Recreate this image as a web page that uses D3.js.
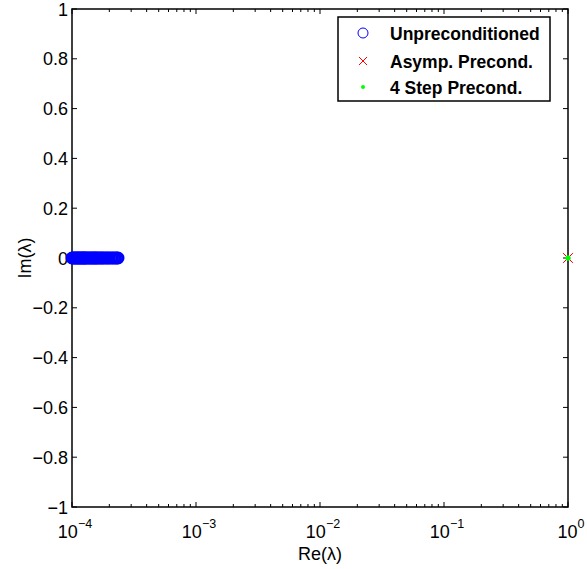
<!DOCTYPE html>
<html lang="en">
<head>
  <meta charset="utf-8">
  <title>Eigenvalue spectrum</title>
  <script src="https://d3js.org/d3.v7.min.js"></script>
  <style>
    body { margin: 0; background: #fff; }
    text { font-family: "Liberation Sans", Arial, sans-serif; }
  </style>
</head>
<body>
  <div id="chart"></div>
  <script>
    var unprecRe = [1.00e-4, 1.02e-4, 1.04e-4, 1.06e-4, 1.08e-4, 1.10e-4, 1.12e-4, 1.14e-4,
      1.16e-4, 1.18e-4, 1.20e-4, 1.22e-4, 1.24e-4, 1.26e-4, 1.28e-4, 1.30e-4, 1.33e-4,
      1.36e-4, 1.39e-4, 1.42e-4, 1.45e-4, 1.48e-4, 1.51e-4, 1.54e-4, 1.57e-4, 1.60e-4,
      1.64e-4, 1.68e-4, 1.72e-4, 1.76e-4, 1.80e-4, 1.85e-4, 1.90e-4, 1.95e-4, 2.00e-4,
      2.06e-4, 2.12e-4, 2.18e-4, 2.24e-4, 2.30e-4, 2.35e-4];
    var unprecIm = unprecRe.map(function () { return 0; });
    var asympRe = [1.0, 0.999, 1.001];
    var asympIm = [0, 0, 0];
    var stepRe = [1.0, 1.0];
    var stepIm = [0, 0];

    var xTicks = [1e-4, 1e-3, 1e-2, 1e-1, 1];
    var xTickExp = ["−4", "−3", "−2", "−1", "0"];
    var yTicks = [-1, -0.8, -0.6, -0.4, -0.2, 0, 0.2, 0.4, 0.6, 0.8, 1];
    var legendLabels = ["Unpreconditioned", "Asymp. Precond.", "4 Step Precond."];

    var W = 587, H = 569;
    var margin = { top: 9, right: 19, bottom: 62, left: 72 },
      width = W - margin.left - margin.right,
      height = H - margin.top - margin.bottom;

    var svg = d3.select("#chart").append("svg")
      .attr("width", W).attr("height", H);
    var g = svg.append("g")
      .attr("transform", "translate(" + margin.left + "," + margin.top + ")");

    var x = d3.scaleLog().domain([1e-4, 1]).range([0, width]);
    var y = d3.scaleLinear().domain([-1, 1]).range([height, 0]);

    // frame
    g.append("rect").attr("width", width).attr("height", height)
      .attr("fill", "none").attr("stroke", "#000").attr("stroke-width", 1.5);

    // x ticks (major + minor), inward on bottom and top
    var minor = [];
    for (var e = -4; e < 0; e++) {
      for (var k = 2; k <= 9; k++) minor.push(k * Math.pow(10, e));
    }
    function tickLines(vals, len) {
      vals.forEach(function (v) {
        var px = x(v);
        g.append("line").attr("x1", px).attr("x2", px).attr("y1", height).attr("y2", height - len)
          .attr("stroke", "#000");
        g.append("line").attr("x1", px).attr("x2", px).attr("y1", 0).attr("y2", len)
          .attr("stroke", "#000");
      });
    }
    tickLines(xTicks, 5);
    tickLines(minor, 3);

    xTicks.forEach(function (v, i) {
      var t = g.append("text").attr("x", x(v) + 3).attr("y", height + 31)
        .attr("text-anchor", "middle").attr("font-size", 18);
      t.append("tspan").text("10");
      t.append("tspan").attr("dy", -10).attr("font-size", 12.5).text(xTickExp[i]);
    });

    // y ticks
    yTicks.forEach(function (v) {
      var py = y(v);
      g.append("line").attr("x1", 0).attr("x2", 5).attr("y1", py).attr("y2", py).attr("stroke", "#000");
      g.append("line").attr("x1", width).attr("x2", width - 5).attr("y1", py).attr("y2", py).attr("stroke", "#000");
      g.append("text").attr("x", -4).attr("y", py + 6.5)
        .attr("text-anchor", "end").attr("font-size", 18)
        .text(v === 0 ? "0" : d3.format(".1~f")(v).replace("-", "−"));
    });

    // axis labels
    g.append("text").attr("x", width / 2).attr("y", height + 53)
      .attr("text-anchor", "middle").attr("font-size", 18).text("Re(λ)");
    g.append("text").attr("transform", "translate(-41," + (height / 2) + ") rotate(-90)")
      .attr("text-anchor", "middle").attr("font-size", 18).text("Im(λ)");

    // data
    g.append("g").selectAll("circle").data(unprecRe).enter().append("circle")
      .attr("cx", function (d) { return x(d); })
      .attr("cy", function (d, i) { return y(unprecIm[i]); })
      .attr("r", 5.5)
      .attr("fill", "none").attr("stroke", "#0000ff").attr("stroke-width", 2);

    function cross(sel, cx, cy, s) {
      sel.append("path")
        .attr("d", "M" + (cx - s) + "," + (cy - s) + "L" + (cx + s) + "," + (cy + s) +
          "M" + (cx - s) + "," + (cy + s) + "L" + (cx + s) + "," + (cy - s))
        .attr("stroke", "#ff0000").attr("stroke-width", 1).attr("fill", "none");
    }
    asympRe.forEach(function (d, i) { cross(g, x(d), y(asympIm[i]), 4.5); });

    g.append("g").selectAll("circle").data(stepRe).enter().append("circle")
      .attr("cx", function (d) { return x(d); })
      .attr("cy", function (d, i) { return y(stepIm[i]); })
      .attr("r", 2.5).attr("fill", "#00ff00");

    // legend
    var lg = svg.append("g").attr("transform", "translate(338,17)");
    lg.append("rect").attr("width", 212).attr("height", 84)
      .attr("fill", "#fff").attr("stroke", "#000").attr("stroke-width", 1.5);
    var rows = [16, 44, 70];
    legendLabels.forEach(function (lab, i) {
      lg.append("text").attr("x", 52).attr("y", rows[i] + 6.5)
        .attr("font-size", 17.5).attr("font-weight", "bold").text(lab);
    });
    lg.append("circle").attr("cx", 25).attr("cy", rows[0]).attr("r", 5)
      .attr("fill", "none").attr("stroke", "#0000ff").attr("stroke-width", 1);
    cross(lg, 25, rows[1], 4);
    lg.append("circle").attr("cx", 25).attr("cy", rows[2]).attr("r", 2)
      .attr("fill", "#00ff00");
  </script>
</body>
</html>
